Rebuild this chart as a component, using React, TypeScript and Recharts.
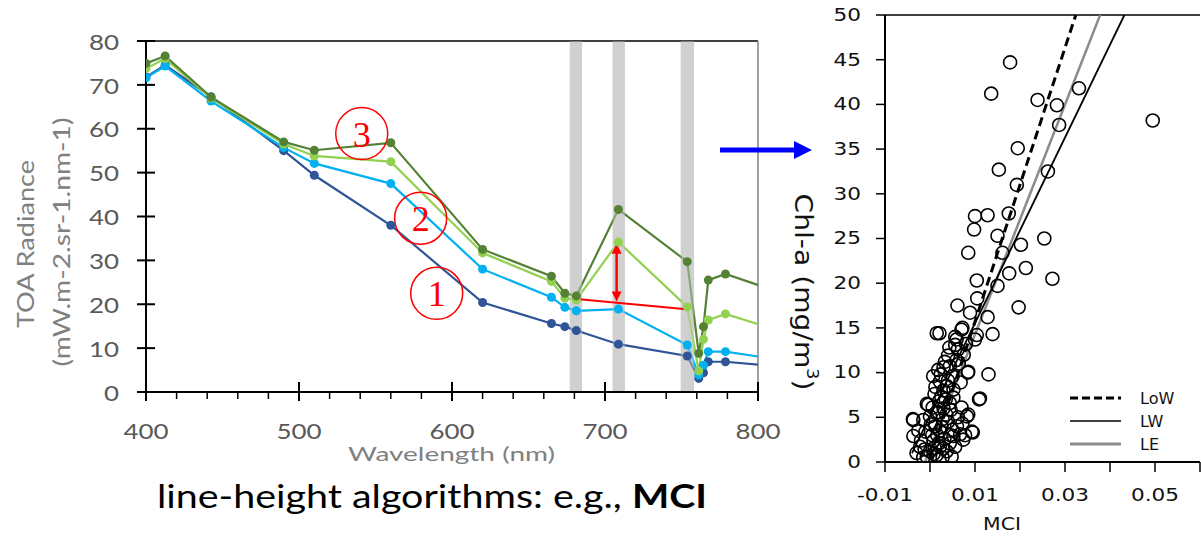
import React from 'react';
import {
  ComposedChart,
  Line,
  Scatter,
  XAxis,
  YAxis,
  ReferenceArea,
  ReferenceLine,
  ReferenceDot,
  Legend,
} from 'recharts';

// ---- left panel: TOA radiance spectra ----
const WAVELENGTHS = [400, 412.5, 442.5, 490, 510, 560, 620, 665, 673.75, 681.25, 708.75, 753.75, 761.25, 764.375, 767.5, 778.75, 865];
const SPECTRUM_1 = [71.8, 74.5, 67.3, 55.0, 49.4, 38.0, 20.4, 15.6, 14.9, 14.0, 10.9, 8.2, 3.1, 4.4, 6.9, 6.9, 4.2];
const SPECTRUM_2 = [71.6, 74.3, 66.3, 55.7, 52.1, 47.5, 28.0, 21.6, 19.3, 18.5, 18.9, 10.7, 3.9, 6.1, 9.2, 9.2, 4.7];
const SPECTRUM_3 = [73.7, 76.0, 67.0, 56.5, 53.8, 52.5, 31.7, 25.2, 21.4, 21.0, 34.2, 19.4, 4.8, 12.0, 16.4, 17.8, 8.4];
const SPECTRUM_4 = [74.9, 76.6, 67.2, 57.0, 55.1, 56.8, 32.5, 26.4, 22.5, 21.9, 41.6, 29.7, 8.8, 14.9, 25.5, 26.9, 16.7];
const SPECTRUM_COLORS = ['#2f5597', '#00b0f0', '#92d050', '#548235'];

const RADIANCE_TICKS = [0, 10, 20, 30, 40, 50, 60, 70, 80];
const WAVE_TICKS = [400, 420, 440, 460, 480, 500, 520, 540, 560, 580, 600, 620, 640, 660, 680, 700, 720, 740, 760, 780, 800];
const WAVE_LABELS = [400, 500, 600, 700, 800];

// MCI bands (shaded)
const BANDS = [
  [677, 685],
  [705, 713],
  [749.5, 758.2],
];

// MCI baseline and peak height
const BASELINE = [
  { x: 681.5, y: 21.2 },
  { x: 755, y: 18.8 },
];
const PEAK_HEIGHT = [
  { x: 707.6, y: 33.8 },
  { x: 707.6, y: 20.6 },
];

const CIRCLE_NUMS = ['1', '2', '3'];
const CIRCLE_NM = [590, 579.5, 541];
const CIRCLE_VAL = [22.5, 39.6, 58.9];

const spectra = WAVELENGTHS.map((nm, i) => ({
  nm,
  s1: SPECTRUM_1[i],
  s2: SPECTRUM_2[i],
  s3: SPECTRUM_3[i],
  s4: SPECTRUM_4[i],
}));

// ---- right panel: Chl-a vs MCI ----
const SCATTER_POINTS: [number, number][] = [
  [0.0178, 44.7], [0.0136, 41.2], [0.0239, 40.5], [0.0282, 39.9], [0.0331, 41.8], [0.0287, 37.7],
  [0.0495, 38.2], [0.0195, 35.1], [0.0153, 32.7], [0.0262, 32.5], [0.0193, 31.0], [0.0175, 27.8],
  [0.0100, 27.5], [0.0128, 27.6], [0.0098, 26.0], [0.0150, 25.3], [0.0254, 25.0], [0.0202, 24.3],
  [0.0085, 23.4], [0.0161, 23.4], [0.0213, 21.7], [0.0176, 21.1], [0.0272, 20.5], [0.0104, 20.3],
  [0.0150, 19.7], [0.0105, 18.3], [0.0061, 17.5], [0.0197, 17.3], [0.0089, 16.7], [0.0128, 16.2],
  [0.0072, 15.0], [0.0021, 14.4], [0.0139, 14.3], [0.0104, 14.2], [0.0056, 14.0], [0.0015, 14.4],
  [0.0100, 13.7], [0.0059, 13.7], [0.0056, 13.1], [0.0130, 9.8], [0.0085, 10.1], [0.0111, 7.1],
  [0.0033, 11.2], [0.0018, 10.3], [0.0007, 9.6], [0.0022, 9.0], [0.0044, 10.7], [0.0059, 11.4],
  [0.0037, 8.5], [-0.0004, 6.4], [-0.0037, 4.7], [-0.0015, 4.7], [0.0000, 5.1], [0.0015, 5.5],
  [0.0030, 6.0], [0.0044, 6.6], [0.0052, 7.2], [0.0082, 5.1], [0.0093, 3.4], [0.0067, 3.1],
  [0.0044, 2.1], [0.0022, 1.7], [0.0000, 1.2], [-0.0022, 1.7], [-0.0037, 2.9], [-0.0030, 1.0],
  [-0.0007, 0.6], [0.0015, 0.8], [0.0037, 1.2], [0.0056, 1.7], [0.0074, 2.5], [-0.0038, 4.8],
  [0.0109, 7.0], [0.0084, 10.0], [0.0085, 5.3], [0.0095, 3.3], [0.0078, 3.0], [-0.0007, 6.5],
  [0.0052, 2.9], [0.0005, 3.0], [0.0012, 4.0], [0.0022, 3.5], [0.0032, 2.6], [-0.0010, 3.4],
  [-0.0020, 2.4], [0.0006, 6.1], [0.0010, 7.6], [0.0020, 6.8], [0.0030, 8.0], [0.0040, 9.1],
  [0.0050, 9.6], [0.0030, 10.6], [0.0040, 11.9], [0.0062, 12.6], [0.0052, 8.1], [0.0062, 5.0],
  [0.0070, 6.1], [0.0040, 4.5], [0.0050, 3.6], [0.0028, 4.8], [0.0020, 2.1], [0.0010, 1.6],
  [-0.0012, 1.4], [0.0008, 2.4], [0.0016, 3.0], [0.0026, 3.9], [0.0036, 5.3], [0.0046, 5.8],
  [0.0025, 7.3], [0.0035, 7.0], [0.0012, 8.4], [0.0024, 9.8], [0.0043, 12.8], [0.0068, 8.9],
  [0.0060, 4.0], [0.0002, 4.2], [-0.0026, 3.5], [0.0045, 3.0], [0.0072, 4.3], [0.0018, 5.6],
  [0.0008, 0.9], [0.0028, 0.5], [0.0048, 0.6], [0.0064, 11.0], [0.0075, 12.0], [0.0080, 13.2],
  [0.0070, 14.8], [0.0030, 1.5], [-0.0015, 0.5],
];

const LOW_FIT = [
  { mci: 0.0, chl: 0.4 },
  { mci: 0.0324, chl: 50 },
];
const LW_FIT = [
  { mci: -0.004, chl: 1.0 },
  { mci: 0.0432, chl: 50 },
];
const LE_FIT = [
  { mci: -0.0011, chl: 0 },
  { mci: 0.0378, chl: 50 },
];

const CHL_TICKS = [0, 5, 10, 15, 20, 25, 30, 35, 40, 45, 50];
const MCI_TICKS = [-0.01, 0, 0.01, 0.02, 0.03, 0.04, 0.05, 0.06];
const MCI_LABELS = [-0.01, 0.01, 0.03, 0.05];
const MCI_LABEL_TEXT = ['-0.01', '0.01', '0.03', '0.05'];

const FIT_NAMES = ['LoW', 'LW', 'LE'];
const FIT_STYLES = [
  { stroke: '#000', width: 3, dash: '8 4' },
  { stroke: '#000', width: 1.3, dash: undefined },
  { stroke: '#8c8c8c', width: 3, dash: undefined },
];

const scatterData = SCATTER_POINTS.map(([mci, chl]) => ({ mci, chl }));

const SANS = 'Lato, "Open Sans", sans-serif';
const DEJAVU = '"DejaVu Sans", Verdana, sans-serif';

const LeftYTick = (props: any) => {
  const { y, payload } = props;
  return (
    <g>
      <line x1={137} y1={y} x2={155} y2={y} stroke="#000" strokeWidth={2} />
      <text
        transform={`translate(119, ${y}) scale(1.18, 1)`}
        textAnchor="end"
        dominantBaseline="central"
        fontFamily={SANS}
        fontSize={22}
        fill="#595959"
      >
        {payload.value}
      </text>
    </g>
  );
};

const LeftXTick = (props: any) => {
  const { x, payload } = props;
  const major = WAVE_LABELS.includes(payload.value);
  return (
    <g>
      {major ? (
        <line x1={x} y1={382} x2={x} y2={401} stroke="#000" strokeWidth={2} />
      ) : (
        <line x1={x} y1={392} x2={x} y2={399} stroke="#000" strokeWidth={1.5} />
      )}
      {major && (
        <text
          transform={`translate(${x}, 430) scale(1.18, 1)`}
          textAnchor="middle"
          dominantBaseline="central"
          fontFamily={SANS}
          fontSize={22}
          fill="#595959"
        >
          {payload.value}
        </text>
      )}
    </g>
  );
};

const RightYTick = (props: any) => {
  const { y, payload } = props;
  return (
    <g>
      <line x1={96} y1={y} x2={105} y2={y} stroke="#000" strokeWidth={1.5} />
      <text
        transform={`translate(81, ${y}) scale(1.2, 1)`}
        textAnchor="end"
        dominantBaseline="central"
        fontFamily={DEJAVU}
        fontSize={18}
        fill="#111"
      >
        {payload.value}
      </text>
    </g>
  );
};

const RightXTick = (props: any) => {
  const { x, payload } = props;
  const idx = MCI_LABELS.findIndex((v) => Math.abs(v - payload.value) < 1e-9);
  return (
    <g>
      <line x1={x} y1={462} x2={x} y2={472} stroke="#000" strokeWidth={1.5} />
      {idx >= 0 && (
        <text
          transform={`translate(${x}, 495) scale(1.2, 1)`}
          textAnchor="middle"
          dominantBaseline="central"
          fontFamily={DEJAVU}
          fontSize={18}
          fill="#111"
        >
          {MCI_LABEL_TEXT[idx]}
        </text>
      )}
    </g>
  );
};

const OpenCircle = (props: any) => (
  <circle cx={props.cx} cy={props.cy} r={6.5} fill="none" stroke="#000" strokeWidth={1.6} />
);

const circledNumber = (label: string) => (props: any) => (
  <g>
    <circle cx={props.cx} cy={props.cy} r={26} fill="none" stroke="#ff0000" strokeWidth={1.5} />
    <text
      x={props.cx}
      y={props.cy + 1}
      textAnchor="middle"
      dominantBaseline="central"
      fontFamily='"Liberation Serif", "DejaVu Serif", serif'
      fontSize={36}
      fill="#ff0000"
    >
      {label}
    </text>
  </g>
);

const DoubleArrow = (props: any) => {
  const { x1, y1, x2, y2 } = props;
  const top = Math.min(y1, y2);
  const bot = Math.max(y1, y2);
  return (
    <g>
      <line x1={x1} y1={top + 8} x2={x2} y2={bot - 8} stroke="#ff0000" strokeWidth={2.5} />
      <polygon points={`${x1},${top} ${x1 - 5},${top + 10} ${x1 + 5},${top + 10}`} fill="#ff0000" />
      <polygon points={`${x1},${bot} ${x1 - 5},${bot - 10} ${x1 + 5},${bot - 10}`} fill="#ff0000" />
    </g>
  );
};

const FitLegend = () => (
  <svg width={130} height={70}>
    {FIT_NAMES.map((name, i) => {
      const s = FIT_STYLES[i];
      const cy = 11 + i * 23;
      return (
        <g key={name}>
          <line x1={5} x2={56} y1={cy} y2={cy} stroke={s.stroke} strokeWidth={s.width} strokeDasharray={s.dash} />
          <text x={75} y={cy} dominantBaseline="central" fontFamily={DEJAVU} fontSize={16} fill="#111">
            {name}
          </text>
        </g>
      );
    })}
  </svg>
);

export default function App() {
  return (
    <div
      style={{
        position: 'absolute',
        left: 0,
        top: 0,
        width: 1201,
        height: 536,
        background: '#fff',
        overflow: 'hidden',
      }}
    >
      <div style={{ position: 'absolute', left: 0, top: 0 }}>
        <ComposedChart width={790} height={536} data={spectra} margin={{ top: 41, right: 32, left: 0, bottom: 0 }}>
          {BANDS.map(([a, b], i) => (
            <ReferenceArea key={`band-${i}`} x1={a} x2={b} fill="#d0d0d0" fillOpacity={1} stroke="none" />
          ))}
          <XAxis
            type="number"
            dataKey="nm"
            domain={[400, 800]}
            ticks={WAVE_TICKS}
            interval={0}
            allowDataOverflow
            height={144}
            tickLine={false}
            axisLine={{ stroke: '#000', strokeWidth: 2 }}
            tick={<LeftXTick />}
          />
          <YAxis
            type="number"
            domain={[0, 80]}
            ticks={RADIANCE_TICKS}
            interval={0}
            width={146}
            tickLine={false}
            axisLine={{ stroke: '#000', strokeWidth: 2 }}
            tick={<LeftYTick />}
          />
          <ReferenceLine y={80} stroke="#000" strokeWidth={1.5} />
          <ReferenceLine x={800} stroke="#808080" strokeWidth={1.5} />
          {['s1', 's2', 's3', 's4'].map((k, i) => (
            <Line
              key={k}
              dataKey={k}
              stroke={SPECTRUM_COLORS[i]}
              strokeWidth={2.2}
              dot={{ r: 4.5, fill: SPECTRUM_COLORS[i], stroke: 'none' }}
              isAnimationActive={false}
            />
          ))}
          {BANDS.map(([a, b], i) => (
            <ReferenceArea
              key={`veil-${i}`}
              x1={a}
              x2={b}
              fill="#d0d0d0"
              fillOpacity={0.45}
              stroke="none"
              {...({ zIndex: 450 } as any)}
            />
          ))}
          <ReferenceLine segment={BASELINE} stroke="#ff0000" strokeWidth={2} {...({ zIndex: 460 } as any)} />
          <ReferenceLine segment={PEAK_HEIGHT} shape={DoubleArrow} {...({ zIndex: 460 } as any)} />
          {CIRCLE_NUMS.map((n, i) => (
            <ReferenceDot
              key={n}
              x={CIRCLE_NM[i]}
              y={CIRCLE_VAL[i]}
              r={26}
              shape={circledNumber(n)}
              {...({ zIndex: 460 } as any)}
            />
          ))}
        </ComposedChart>
      </div>

      <div style={{ position: 'absolute', left: 780, top: 0 }}>
        <ComposedChart width={421} height={536} margin={{ top: 15, right: 1, left: 0, bottom: 0 }}>
          <XAxis
            type="number"
            dataKey="mci"
            domain={[-0.01, 0.06]}
            ticks={MCI_TICKS}
            interval={0}
            allowDataOverflow
            height={74}
            tickLine={false}
            axisLine={{ stroke: '#000', strokeWidth: 2 }}
            tick={<RightXTick />}
          />
          <YAxis
            type="number"
            dataKey="chl"
            domain={[0, 50]}
            ticks={CHL_TICKS}
            interval={0}
            allowDataOverflow
            width={105}
            tickLine={false}
            axisLine={{ stroke: '#000', strokeWidth: 2 }}
            tick={<RightYTick />}
          />
          <ReferenceLine y={50} stroke="#000" strokeWidth={1.5} />
          <Scatter data={scatterData} shape={OpenCircle} isAnimationActive={false} />
          <Line data={LE_FIT} dataKey="chl" stroke="#8c8c8c" strokeWidth={2.5} dot={false} isAnimationActive={false} />
          <Line data={LW_FIT} dataKey="chl" stroke="#000" strokeWidth={1.8} dot={false} isAnimationActive={false} />
          <Line
            data={LOW_FIT}
            dataKey="chl"
            stroke="#000"
            strokeWidth={3}
            strokeDasharray="9 5"
            dot={false}
            isAnimationActive={false}
          />
          <Legend
            layout="vertical"
            align="center"
            verticalAlign="middle"
            content={<FitLegend />}
            wrapperStyle={{ left: 285, top: 387, width: 130, height: 70 }}
          />
        </ComposedChart>
      </div>

      <svg
        width={1201}
        height={536}
        style={{ position: 'absolute', left: 0, top: 0, pointerEvents: 'none' }}
      >
        <text
          transform="translate(25, 244) rotate(-90)"
          textAnchor="middle"
          dominantBaseline="central"
          fontFamily={SANS}
          fontSize={23}
          fill="#808080"
          textLength={168}
          lengthAdjust="spacingAndGlyphs"
        >
          TOA Radiance
        </text>
        <text
          transform="translate(61, 242) rotate(-90)"
          textAnchor="middle"
          dominantBaseline="central"
          fontFamily={SANS}
          fontSize={23}
          fill="#808080"
          textLength={249}
          lengthAdjust="spacingAndGlyphs"
        >
          (mW.m-2.sr-1.nm-1)
        </text>
        <text
          x={348}
          y={461}
          fontFamily={SANS}
          fontSize={20}
          fill="#808080"
          textLength={207}
          lengthAdjust="spacingAndGlyphs"
        >
          Wavelength (nm)
        </text>
        <text
          x={157}
          y={508}
          fontFamily={SANS}
          fontSize={32}
          fill="#000"
          textLength={550}
          lengthAdjust="spacingAndGlyphs"
        >
          line-height algorithms: e.g., <tspan fontWeight="bold">MCI</tspan>
        </text>
        <text
          transform="translate(803, 292) rotate(90)"
          textAnchor="middle"
          dominantBaseline="central"
          fontFamily={DEJAVU}
          fontSize={24}
          fill="#111"
          textLength={197}
          lengthAdjust="spacingAndGlyphs"
        >
          Chl-a (mg/m<tspan baselineShift="super" fontSize={15}>3</tspan>)
        </text>
        <text
          transform="translate(1002, 524) scale(1.2, 1)"
          textAnchor="middle"
          dominantBaseline="central"
          fontFamily={DEJAVU}
          fontSize={17}
          fill="#111"
        >
          MCI
        </text>
        <line x1={720} y1={150} x2={797} y2={150} stroke="#0000ff" strokeWidth={5} />
        <polygon points="794,141 812,150 794,159" fill="#0000ff" />
      </svg>
    </div>
  );
}
